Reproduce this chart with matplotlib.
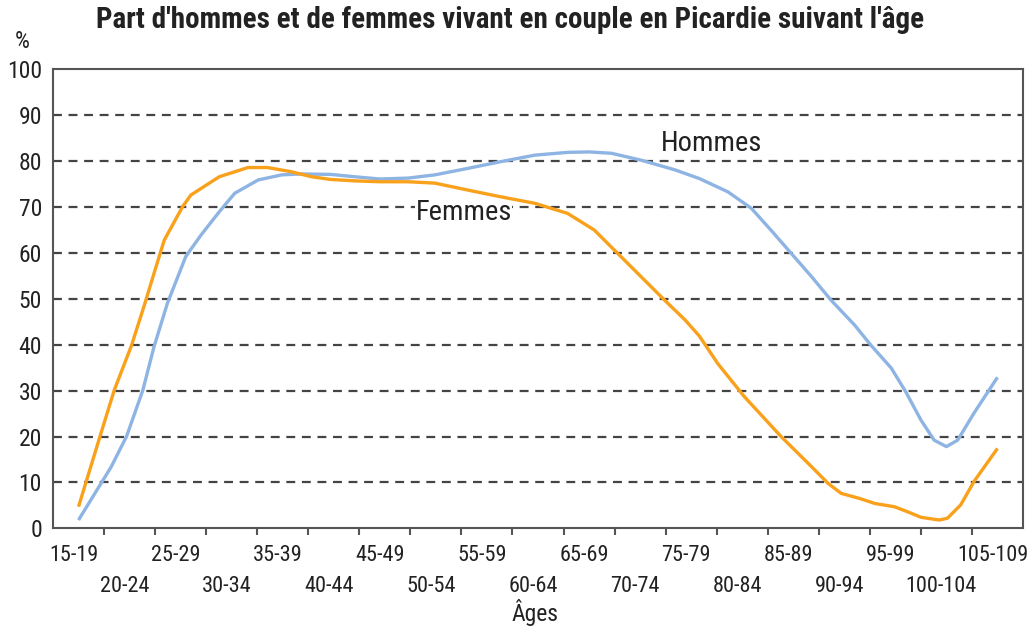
import matplotlib
matplotlib.use("Agg")
import matplotlib.pyplot as plt
import matplotlib.transforms as mtransforms

FONT = ['Liberation Sans Narrow', 'Roboto Condensed', 'Liberation Sans', 'DejaVu Sans']
plt.rcParams['font.family'] = FONT

categories = ["15-19", "20-24", "25-29", "30-34", "35-39", "40-44", "45-49", "50-54",
              "55-59", "60-64", "65-69", "70-74", "75-79", "80-84", "85-89", "90-94",
              "95-99", "100-104", "105-109"]
category_mid_ages = [17 + 5 * i for i in range(len(categories))]

hommes_age = [17, 20.2, 21.7, 23.3, 24.4, 25.7, 27.5, 29.0, 30.8, 32.3, 34.6, 36.9,
              38.8, 41.7, 44.0, 46.5, 49.3, 51.9, 55.1, 58.4, 61.7, 64.9, 67.0, 69.2,
              72.1, 75.4, 77.8, 80.6, 82.9, 84.8, 86.8, 88.8, 90.7, 93.0, 94.6, 96.6,
              98.0, 99.5, 100.8, 102.0, 103.1, 104.7, 107.0]
hommes_val = [1.8, 13.4, 20.0, 30.1, 39.6, 49.0, 59.2, 63.9, 69.0, 73.0, 75.9, 77.0,
              77.2, 77.1, 76.6, 76.1, 76.3, 77.0, 78.4, 79.9, 81.3, 81.9, 82.0, 81.7,
              80.2, 78.1, 76.2, 73.3, 69.7, 65.0, 59.9, 54.8, 49.7, 44.3, 39.9, 34.9,
              29.8, 23.6, 19.2, 17.8, 19.2, 25.1, 32.9]

femmes_age = [17, 19.1, 20.5, 22.2, 23.5, 24.4, 25.4, 27.2, 28.0, 30.3, 30.8, 33.6, 35.5,
              37.8, 39.8, 41.7, 44.0, 46.5, 49.3, 51.9, 55.1, 58.4, 61.7, 64.9, 67.5,
              69.8, 72.1, 74.4, 76.4, 77.8, 79.6, 82.2, 85.8, 88.8, 90.4, 91.7, 93.5,
              95.0, 96.9, 98.2, 99.5, 101.3, 102.1, 103.4, 104.7, 107.0]
femmes_val = [4.7, 20.0, 30.1, 39.9, 49.0, 55.6, 62.8, 70.1, 72.6, 75.9, 76.6, 78.6, 78.6,
              77.7, 76.6, 76.0, 75.7, 75.5, 75.5, 75.2, 73.7, 72.2, 70.8, 68.6, 65.0,
              59.9, 54.8, 49.7, 45.4, 41.9, 35.9, 28.7, 20.0, 13.4, 9.8, 7.6, 6.5,
              5.4, 4.7, 3.6, 2.4, 1.8, 2.2, 5.1, 10.2, 17.4]

y_ticks = list(range(0, 101, 10))

fig = plt.figure(figsize=(10.32, 6.29), dpi=100)
ax = fig.add_axes([53 / 1032, 1 - 528.3 / 629, (1023 - 53) / 1032, (528.3 - 69.3) / 629])

for v in y_ticks[1:-1]:
    ax.axhline(v, color='#444444', lw=1.6, ls=(0, (4, 3)), zorder=1)

ax.plot(hommes_age, hommes_val, color='#8EB4E3', lw=2.4, zorder=3, solid_capstyle='butt')
ax.plot(femmes_age, femmes_val, color='#F9A11B', lw=2.4, zorder=4, solid_capstyle='butt')

ax.set_xlim(14.5, 109.5)
ax.set_ylim(0, 100)

for s in ax.spines.values():
    s.set_color('#555555')
    s.set_linewidth(1.5)

ax.set_yticks(y_ticks)
ax.set_yticklabels([str(v) for v in y_ticks], fontsize=17, color='#222222')
ax.tick_params(axis='y', length=0, pad=8)

ax.set_xticks(category_mid_ages)
ax.set_xticklabels(categories, fontsize=16, color='#222222')
ax.tick_params(axis='x', which='major', length=0, pad=12)
ax.set_xticks([19.5 + 5 * i for i in range(len(categories) - 1)], minor=True)
ax.tick_params(axis='x', which='minor', length=5, width=1.5, color='#555555', direction='out')
for i, tick in enumerate(ax.xaxis.get_major_ticks()):
    tick.set_pad(12 if i % 2 == 0 else 34.5)
shift = mtransforms.ScaledTranslation(-5 / 100, 0, fig.dpi_scale_trans)
for lab in ax.get_xticklabels():
    lab.set_transform(lab.get_transform() + shift)

ax.text(74.0, 83.9, "Hommes", fontsize=20.5, color='#222222', ha='left', va='center', zorder=2)
ax.text(50.0, 68.9, "Femmes", fontsize=20.5, color='#222222', ha='left', va='center', zorder=2,
        bbox=dict(facecolor='white', edgecolor='none', pad=0.5))

fig.text(510 / 1032, 1 - 20 / 629, "Part d'hommes et de femmes vivant en couple en Picardie suivant l'âge",
         fontsize=21, fontweight='bold', ha='center', va='center', color='#222222')
fig.text(22 / 1032, 1 - 42 / 629, "%", fontsize=17, ha='center', va='center', color='#222222')
fig.text(535 / 1032, 1 - 612 / 629, "Âges", fontsize=17, ha='center', va='center', color='#222222')

fig.savefig("out.png", dpi=100)
